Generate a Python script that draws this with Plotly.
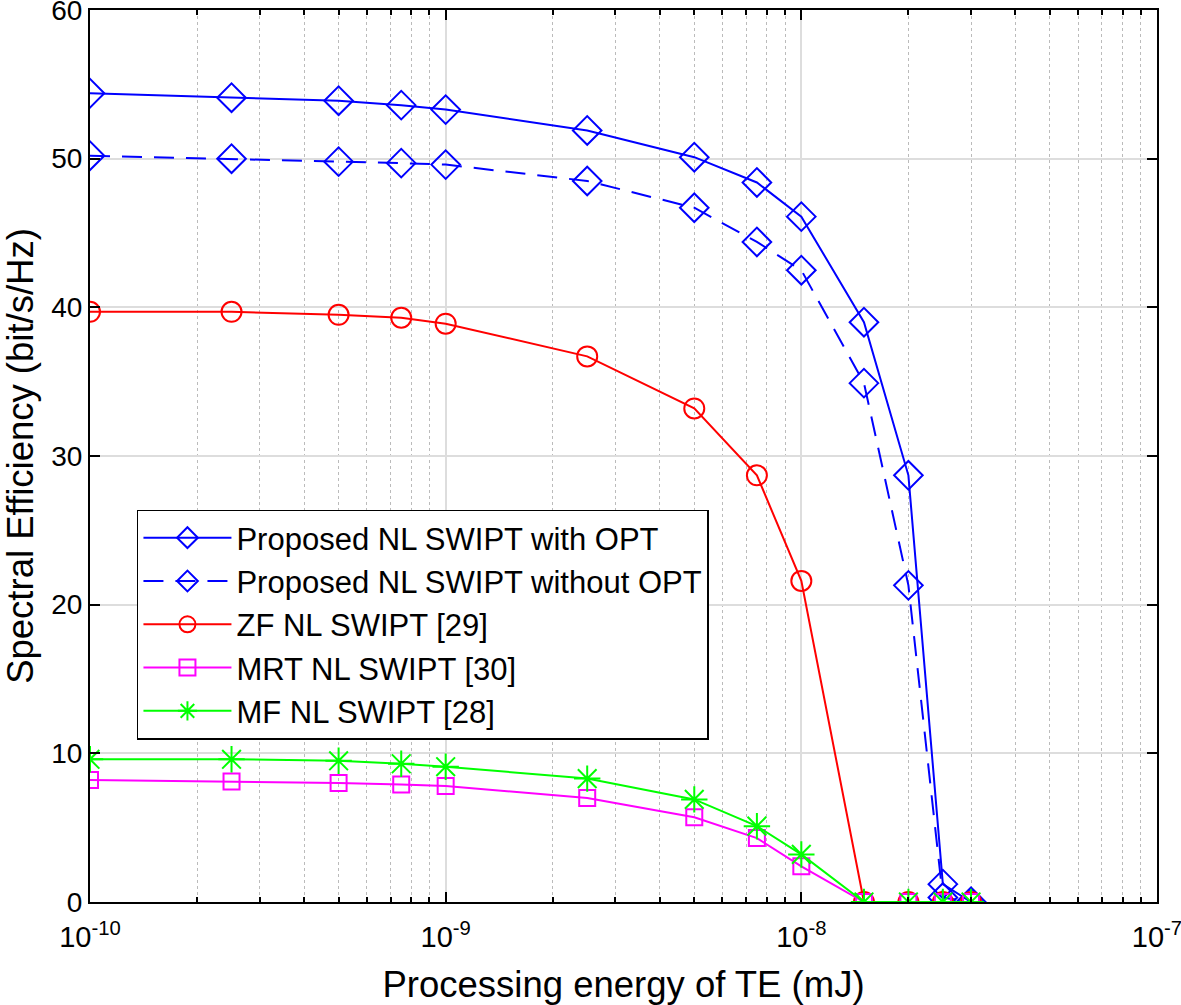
import plotly.graph_objects as go

x_energy = [1e-10, 2.5e-10, 5e-10, 7.5e-10, 1e-9, 2.5e-9, 5e-9, 7.5e-9, 1e-8, 1.5e-8, 2e-8, 2.5e-8, 3e-8]
se_opt = [54.4, 54.1, 53.9, 53.6, 53.3, 51.9, 50.1, 48.4, 46.1, 39.0, 28.7, 1.2, 0.0]
se_noopt = [50.2, 50.0, 49.8, 49.7, 49.6, 48.5, 46.7, 44.4, 42.5, 34.9, 21.3, 0.3, 0.0]
se_zf = [39.7, 39.7, 39.5, 39.3, 38.9, 36.7, 33.2, 28.7, 21.6, 0.0, 0.0, 0.0, 0.0]
se_mrt = [8.2, 8.1, 8.0, 7.9, 7.8, 7.0, 5.7, 4.3, 2.4, 0.0, 0.0, 0.0, 0.0]
se_mf = [9.6, 9.6, 9.5, 9.3, 9.1, 8.3, 6.9, 5.1, 3.2, 0.0, 0.0, 0.0, 0.0]

names = ["Proposed NL SWIPT with OPT", "Proposed NL SWIPT without OPT",
         "ZF NL SWIPT [29]", "MRT NL SWIPT [30]", "MF NL SWIPT [28]"]

x_tickvals = [1e-10, 1e-9, 1e-8, 1e-7]
x_ticktext = ["10<sup>-10</sup>", "10<sup>-9</sup>", "10<sup>-8</sup>", "10<sup>-7</sup>"]
y_tickvals = [0, 10, 20, 30, 40, 50, 60]

series = [
    (se_opt, names[0], "#0000FF", "solid", "diamond-open", 22),
    (se_noopt, names[1], "#0000FF", "20px,12px", "diamond-open", 22),
    (se_zf, names[2], "#FF0000", "solid", "circle-open", 20),
    (se_mrt, names[3], "#FF00FF", "solid", "square-open", 16),
    (se_mf, names[4], "#00FF00", "solid", "asterisk-open", 22),
]

fig = go.Figure()
for y, name, color, dash, sym, size in series:
    fig.add_trace(go.Scatter(
        x=x_energy, y=y, name=name, mode="lines+markers",
        line=dict(color=color, width=2, dash=dash),
        marker=dict(symbol=sym, size=size, color=color, line=dict(color=color, width=2)),
    ))

font_family = "Liberation Sans, Arial, sans-serif"

fig.update_layout(
    width=1181, height=1005,
    margin=dict(l=90, r=24, t=10, b=103),
    plot_bgcolor="white", paper_bgcolor="white",
    font=dict(family=font_family, size=28, color="black"),
    showlegend=True,
    legend=dict(
        x=0.044, y=0.44, xanchor="left", yanchor="top",
        bgcolor="white", bordercolor="black", borderwidth=1.5,
        font=dict(size=31, family=font_family), tracegroupgap=0,
        itemwidth=88,
    ),
)

fig.update_xaxes(
    type="log", range=[-10, -7],
    tickvals=x_tickvals, ticktext=x_ticktext,
    ticks="inside", ticklen=10, tickwidth=2, tickcolor="black",
    showline=True, linecolor="black", linewidth=2, mirror="ticks",
    showgrid=True, gridcolor="#DDDDDD", gridwidth=1.5,
    tickfont=dict(size=29), ticklabeloverflow="allow", automargin=False,
    ticklabelstandoff=8,
    minor=dict(ticks="inside", ticklen=5, tickwidth=1.5, tickcolor="black",
               showgrid=True, gridcolor="#BBBBBB", griddash="dot", gridwidth=1,
               dtick="D1"),
    title=dict(text="Processing energy of TE (mJ)", font=dict(size=36.5), standoff=22),
    zeroline=False,
)
fig.update_yaxes(
    range=[0, 60], tickvals=y_tickvals,
    ticks="inside", ticklen=10, tickwidth=2, tickcolor="black",
    showline=True, linecolor="black", linewidth=2, mirror="ticks",
    showgrid=True, gridcolor="#DDDDDD", gridwidth=1.5,
    tickfont=dict(size=28), ticklabeloverflow="allow", automargin=False,
    title=dict(text="Spectral Efficiency (bit/s/Hz)", font=dict(size=36.5), standoff=20),
    zeroline=False,
)

fig.write_html("out.html", config={"displayModeBar": False},
               post_script="document.body.style.margin='0';")
